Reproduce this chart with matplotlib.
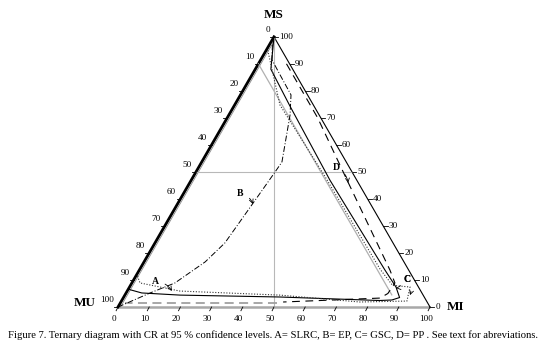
# -*- coding: utf-8 -*-

import numpy as np
import matplotlib.pyplot as plt

plt.rcParams['font.family'] = ['Liberation Serif', 'DejaVu Serif']

# ternary values (MI, MS in %, MU = 100 - MI - MS)
ticks = np.arange(0, 101, 10)

# C = GSC, solid
c_mi = [0, 5, 17.9, 44.4, 78.7, 85.4, 88.5, 86.5, 82.7, 50, 17.7, 5, 0.3]
c_ms = [100, 88, 74.4, 47, 13.7, 7.4, 3.5, 2.6, 2.4, 3.7, 4.4, 5.2, 6.5]

# D = PP, long dashes
d_mi = [9, 29, 49.9, 80.3, 84.3, 84, 82.3, 52]
d_ms = [90, 70, 47, 13.7, 8.9, 5, 3.3, 1.85]
d2_mi = [50.2, 1.5]
d2_ms = [1.5, 1.5]

# A = SLRC, dotted
a_mi = [0.5, 14.5, 42.5, 77, 84, 89.9, 91.5, 76.6, 49.7, 16.9, 2.6, 0.15]
a_ms = [95, 74.8, 48, 14, 8, 7.4, 2.2, 1.85, 4.4, 5.9, 8.9, 11.9]

# B = EP, dash-dot
b_mi = [0, 7.7, 13.8, 19.6, 22.4, 24, 25.4, 25.7, 19.6, 16.2, 9, 3.6, 0.5]
b_ms = [0, 5.2, 8.9, 16.7, 23.7, 37.8, 50.4, 53.7, 71.1, 78.5, 85.9, 91.5, 98]

# grey reference lines
g_mi = [0, 85.5]
g_ms = [90, 4.5]
h_mi = [0, 50]
h_ms = [50, 50]
v_mi = [0, 50]
v_ms = [100, 0]

# labels of the regions and where their arrows point
lab_txt = ['A', 'B', 'C', 'C', 'D']
lab_mi = [7.2, 18.2, 87.6, 87.6, 44.1]
lab_ms = [9.3, 41.9, 10.0, 10.0, 51.5]
tip_mi = [14.3, 24.2, 85.6, 91.4, 50.8]
tip_ms = [5.9, 38.1, 7.0, 4.4, 45.9]


def tern(mi, ms):
    mi = np.asarray(mi, float)
    ms = np.asarray(ms, float)
    return mi + ms / 2.0, ms * np.sqrt(3) / 2.0


fig = plt.figure(figsize=(5.45, 3.45), dpi=100)
ax = fig.add_axes([0, 0, 1, 1])
ax.set_xlim(-37.82, 136.86)
ax.set_ylim(-12.18, 98.4)
ax.axis('off')

# frame of the triangle
ax.plot(*tern([0, 100], [0, 0]), color='#a8a8a8', lw=1.8, solid_capstyle='butt')
ax.plot(*tern([100, 0], [0, 100]), color='black', lw=0.8)
ax.plot(*tern([0, 0], [0, 100]), color='black', lw=2.0)
ax.plot(*tern([0.8, 0.8], [0, 99.2]), color='#888888', lw=0.6)

# grey reference lines
ax.plot(*tern(g_mi, g_ms), color='#b0b0b0', lw=0.9)
ax.plot(*tern(h_mi, h_ms), color='#b8b8b8', lw=0.8)
ax.plot(*tern(v_mi, v_ms), color='#b8b8b8', lw=0.8)

# confidence regions
ax.plot(*tern(c_mi, c_ms), color='black', lw=0.8)
ax.plot(*tern(d_mi, d_ms), color='black', lw=0.8, dashes=(7, 5))
ax.plot(*tern(d2_mi, d2_ms), color='#a0a0a0', lw=1.3, dashes=(5, 3))
ax.plot(*tern(a_mi, a_ms), color='#333333', lw=0.8, dashes=(1, 1.5))
ax.plot(*tern(b_mi, b_ms), color='black', lw=0.7, dashes=(6, 2, 1, 2))

# ticks and tick labels
for t in ticks:
    # left side: MU
    x, y = tern(0, 100 - t)
    ax.plot([x - 1.2, x], [y, y], color='black', lw=0.6)
    ax.annotate(str(t), (x, y), xytext=(-3, 5), textcoords='offset points',
                ha='right', va='center', fontsize=6.6)
    # right side: MS
    x, y = tern(100 - t, t)
    ax.plot([x, x + 1.4], [y, y], color='black', lw=0.6)
    ax.annotate(str(t), (x, y), xytext=(4, 0), textcoords='offset points',
                ha='left', va='center', fontsize=6.6)
    # bottom: MI
    x, y = tern(t, 0)
    ax.plot([x, x - 0.6], [y, y - 1.2], color='black', lw=0.6)
    ax.annotate(str(t), (x, y), xytext=(-3, -6), textcoords='offset points',
                ha='center', va='top', fontsize=6.6)

# vertex names
ax.annotate('MS', tern(0, 100), xytext=(0, 16), textcoords='offset points',
            ha='center', va='center', fontsize=9.5, fontweight='bold')
ax.annotate('MU', tern(0, 0), xytext=(-24, 3), textcoords='offset points',
            ha='center', va='center', fontsize=9.5, fontweight='bold')
ax.annotate('MI', tern(100, 0), xytext=(18, 0), textcoords='offset points',
            ha='center', va='center', fontsize=9.5, fontweight='bold')

# region labels with arrows
for s, lm, ls, tm, ts in zip(lab_txt, lab_mi, lab_ms, tip_mi, tip_ms):
    ax.annotate(s, tern(tm, ts), xytext=tern(lm, ls), textcoords='data',
                ha='center', va='center', fontsize=7, fontweight='bold',
                arrowprops=dict(arrowstyle='->', lw=0.6, color='black',
                                shrinkA=3, shrinkB=0,
                                connectionstyle='arc3,rad=-0.3'))

fig.text(0.5, 0.03, 'Figure 7. Ternary diagram with CR at 95 % confidence levels. '
         'A= SLRC, B= EP, C= GSC, D= PP . See text for abreviations.',
         ha='center', va='center', fontsize=7.7)

fig.savefig('out.png', dpi=100)
